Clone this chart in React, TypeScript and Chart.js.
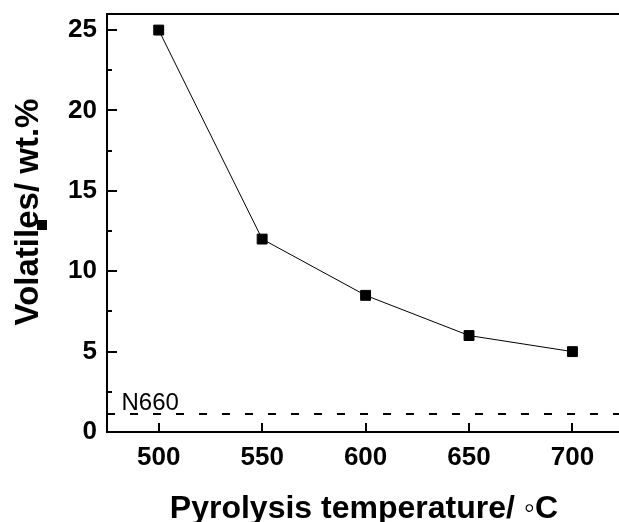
import React, { useEffect, useRef } from "react";
import { Chart, registerables } from "chart.js";

Chart.register(...registerables);

// Pyrolysis temperature (°C) and measured volatile content (wt.%)
const temperatures = [500, 550, 600, 650, 700];
const volatiles = [25, 12, 8.5, 6, 5];

// Reference level for commercial N660 carbon black
const n660Level = 1.12;
const n660Span = [475, 722.5];

// Axis ranges and tick positions
const xRange = [475, 722.5];
const yRange = [0, 26];
const xTickValues = [500, 550, 600, 650, 700];
const yTickValues = [0, 5, 10, 15, 20, 25];
const yMinorTickValues = [2.5, 7.5, 12.5, 17.5, 22.5];

const xTitle = "Pyrolysis temperature/ \u25E6C";
const yTitle = "Volatiles/ wt.%";
const refLabel = "N660";

const FONT = '"Liberation Sans", Arial, Helvetica, sans-serif';

const frameAndLabels = {
  id: "frameAndLabels",
  afterDraw(chart: any) {
    const { ctx, chartArea, scales } = chart;
    const xs = scales.x;
    const ys = scales.y;
    ctx.save();
    ctx.strokeStyle = "#000";
    ctx.fillStyle = "#000";
    ctx.lineWidth = 2;

    // top frame line
    ctx.beginPath();
    ctx.moveTo(chartArea.left - 1, chartArea.top);
    ctx.lineTo(chartArea.right, chartArea.top);
    ctx.stroke();

    // inward ticks on the bottom axis
    ctx.beginPath();
    for (const v of xTickValues) {
      const px = Math.round(xs.getPixelForValue(v));
      ctx.moveTo(px, chartArea.bottom);
      ctx.lineTo(px, chartArea.bottom - 9);
    }
    // inward ticks on the left axis
    for (const v of yTickValues) {
      const py = Math.round(ys.getPixelForValue(v));
      ctx.moveTo(chartArea.left, py);
      ctx.lineTo(chartArea.left + 10, py);
    }
    for (const v of yMinorTickValues) {
      const py = Math.round(ys.getPixelForValue(v));
      ctx.moveTo(chartArea.left, py);
      ctx.lineTo(chartArea.left + 5, py);
    }
    ctx.stroke();

    // reference line label
    ctx.font = `24px ${FONT}`;
    ctx.textAlign = "left";
    ctx.textBaseline = "alphabetic";
    ctx.fillText(refLabel, xs.getPixelForValue(482), ys.getPixelForValue(n660Level) - 4);

    // axis titles
    ctx.font = `bold 32px ${FONT}`;
    ctx.textAlign = "center";
    ctx.fillText(xTitle, 364, 518);
    ctx.font = `bold 33px ${FONT}`;
    ctx.save();
    ctx.translate(38, 212);
    ctx.rotate(-Math.PI / 2);
    ctx.fillText(yTitle, 0, 0);
    ctx.restore();

    // series swatch
    ctx.fillRect(37, 220, 10, 10);
    ctx.restore();
  },
};

export default function App() {
  const canvasRef = useRef<HTMLCanvasElement | null>(null);

  useEffect(() => {
    const canvas = canvasRef.current;
    if (!canvas) return;
    const tickFont = { family: FONT, size: 26, weight: "bold" as const };

    const chart = new Chart(canvas, {
      type: "line",
      data: {
        datasets: [
          {
            label: "Volatiles",
            data: temperatures.map((t, i) => ({ x: t, y: volatiles[i] })),
            borderColor: "#000",
            borderWidth: 1,
            backgroundColor: "#000",
            pointStyle: "rect",
            pointRadius: 7,
            pointBorderWidth: 1,
            pointBackgroundColor: "#000",
            pointBorderColor: "#000",
            tension: 0,
          },
          {
            label: refLabel,
            data: n660Span.map((t) => ({ x: t, y: n660Level })),
            borderColor: "#000",
            borderWidth: 2,
            borderDash: [8, 15],
            pointRadius: 0,
            tension: 0,
          },
        ],
      },
      options: {
        responsive: false,
        animation: false,
        layout: { autoPadding: false, padding: { top: 14, left: 0, right: 0, bottom: 0 } },
        plugins: {
          legend: { display: false },
          tooltip: { enabled: false },
        },
        scales: {
          x: {
            type: "linear",
            min: xRange[0],
            max: xRange[1],
            afterFit: (s: any) => {
              s.height = 90;
              s.paddingLeft = 0;
              s.paddingRight = 0;
            },
            afterBuildTicks: (s: any) => {
              s.ticks = xTickValues.map((v) => ({ value: v }));
            },
            grid: { display: false, drawTicks: false },
            border: { display: true, color: "#000", width: 2 },
            ticks: {
              color: "#000",
              font: tickFont,
              padding: 10,
              maxRotation: 0,
              autoSkip: false,
              callback: (v: any) => String(v),
            },
          },
          y: {
            type: "linear",
            min: yRange[0],
            max: yRange[1],
            afterFit: (s: any) => {
              s.width = 107;
              s.paddingTop = 0;
              s.paddingBottom = 0;
            },
            afterBuildTicks: (s: any) => {
              s.ticks = yTickValues.map((v) => ({ value: v }));
            },
            grid: { display: false, drawTicks: false },
            border: { display: true, color: "#000", width: 2 },
            ticks: {
              color: "#000",
              font: tickFont,
              padding: 10,
              autoSkip: false,
              callback: (v: any) => String(v),
            },
          },
        },
      },
      plugins: [frameAndLabels],
    });
    return () => chart.destroy();
  }, []);

  return (
    <div style={{ position: "fixed", left: 0, top: 0, width: 619, height: 522, background: "#fff" }}>
      <canvas ref={canvasRef} width={619} height={522} />
    </div>
  );
}
